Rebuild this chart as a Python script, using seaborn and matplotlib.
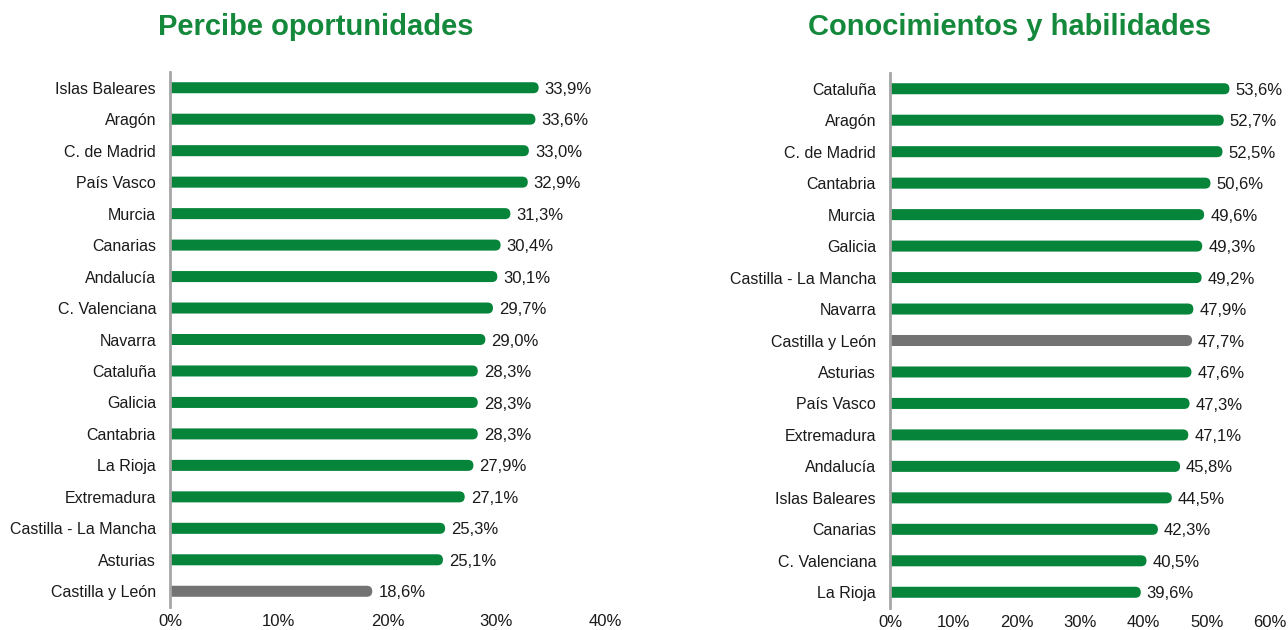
import numpy as np
import pandas as pd
import matplotlib
matplotlib.use("Agg")
import matplotlib.pyplot as plt
from matplotlib.patches import FancyBboxPatch
import matplotlib.ticker as mticker
import seaborn as sns

# --- datos ---
regiones_izq = ["Islas Baleares", "Aragón", "C. de Madrid", "País Vasco", "Murcia",
                "Canarias", "Andalucía", "C. Valenciana", "Navarra", "Cataluña",
                "Galicia", "Cantabria", "La Rioja", "Extremadura",
                "Castilla - La Mancha", "Asturias", "Castilla y León"]
valores_izq = [33.9, 33.6, 33.0, 32.9, 31.3, 30.4, 30.1, 29.7, 29.0, 28.3,
               28.3, 28.3, 27.9, 27.1, 25.3, 25.1, 18.6]

regiones_der = ["Cataluña", "Aragón", "C. de Madrid", "Cantabria", "Murcia",
                "Galicia", "Castilla - La Mancha", "Navarra", "Castilla y León",
                "Asturias", "País Vasco", "Extremadura", "Andalucía",
                "Islas Baleares", "Canarias", "C. Valenciana", "La Rioja"]
valores_der = [53.6, 52.7, 52.5, 50.6, 49.6, 49.3, 49.2, 47.9, 47.7, 47.6,
               47.3, 47.1, 45.8, 44.5, 42.3, 40.5, 39.6]

titulos = ["Percibe oportunidades", "Conocimientos y habilidades"]
ticks_izq = [0, 10, 20, 30, 40]
ticks_der = [0, 10, 20, 30, 40, 50, 60]

VERDE = "#05843a"
GRIS = "#737373"
VERDE_TITULO = "#14893c"
DESTACADO = "Castilla y León"

sns.set_style("white")
plt.rcParams["font.family"] = ["Liberation Sans", "DejaVu Sans"]

fig = plt.figure(figsize=(12.88, 6.3), dpi=100)
ax1 = fig.add_axes([170 / 1288, 1 - 607 / 630, 435 / 1288, 535 / 630])
ax2 = fig.add_axes([890 / 1288, 1 - 608 / 630, 380 / 1288, 535 / 630])

BAR_PX = 11  # grosor de barra en píxeles


def _panel(ax, regiones, valores, ticks):
    df = pd.DataFrame({"region": regiones, "valor": valores})
    colores = [GRIS if r == DESTACADO else VERDE for r in regiones]
    sns.barplot(data=df, x="valor", y="region", hue="region", palette=colores,
                legend=False, orient="h", width=0.35, ax=ax, saturation=1)
    ax.set_xlim(ticks[0], ticks[-1])
    ax.set_ylim(len(regiones) - 0.5, -0.5)

    # escala píxel -> datos para redondear el extremo de las barras
    px_x = ax.bbox.width / (ticks[-1] - ticks[0])
    px_y = ax.bbox.height / len(regiones)
    r_x = (BAR_PX / 2) / px_x
    aspect = px_x / px_y

    for patch in list(ax.patches):
        x, y = patch.get_x(), patch.get_y()
        w, h = patch.get_width(), patch.get_height()
        fc = patch.get_facecolor()
        patch.remove()
        rb = FancyBboxPatch((x - r_x * 2, y), w + r_x * 2, h,
                            boxstyle=f"round,pad=0,rounding_size={r_x}",
                            mutation_aspect=aspect, facecolor=fc,
                            edgecolor="none", clip_on=True)
        ax.add_patch(rb)

    for i, v in enumerate(valores):
        ax.text(v + 6 / px_x, i + 0.05,
                f"{v:.1f}%".replace(".", ","),
                va="center", ha="left", fontsize=12, color="#1a1a1a",
                clip_on=False)

    ax.set_xticks(ticks)
    ax.xaxis.set_major_formatter(mticker.FuncFormatter(lambda x, _: f"{x:.0f}%"))
    ax.tick_params(axis="x", length=0, labelsize=12, pad=5, colors="#1a1a1a")
    ax.tick_params(axis="y", length=0, labelsize=11.5, pad=10, colors="#1a1a1a")
    ax.set_xlabel("")
    ax.set_ylabel("")
    for s in ["top", "right", "bottom"]:
        ax.spines[s].set_visible(False)
    ax.spines["left"].set_color("#a6a6a6")
    ax.spines["left"].set_linewidth(2)
    ax.spines["left"].set_zorder(5)
    ax.grid(False)


_panel(ax1, regiones_izq, valores_izq, ticks_izq)
_panel(ax2, regiones_der, valores_der, ticks_der)

fig.text(316 / 1288, 1 - 27 / 630, titulos[0], ha="center", va="center",
         fontsize=21, fontweight="bold", color=VERDE_TITULO)
fig.text(1010 / 1288, 1 - 27 / 630, titulos[1], ha="center", va="center",
         fontsize=21, fontweight="bold", color=VERDE_TITULO)

fig.savefig("out.png", dpi=100)
